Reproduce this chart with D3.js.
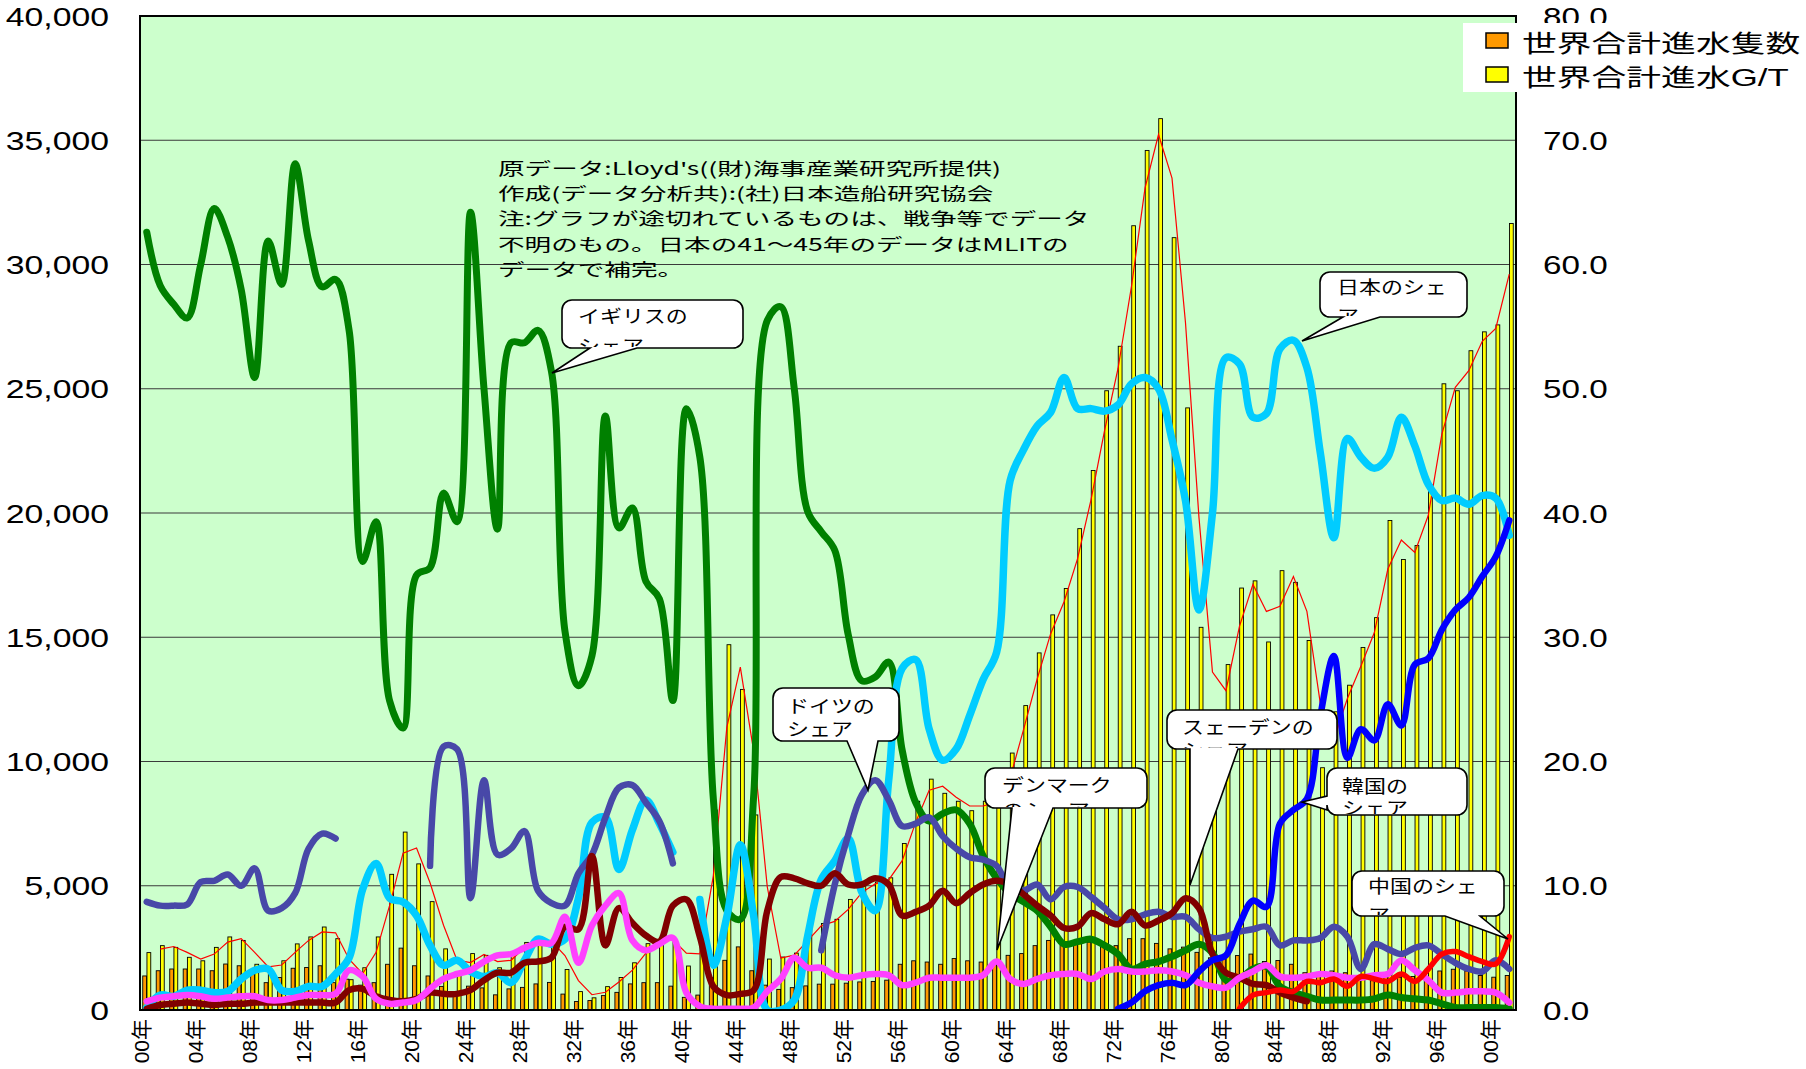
<!DOCTYPE html>
<html>
<head>
<meta charset="utf-8">
<script src="https://cdn.jsdelivr.net/npm/d3@7"></script>
<style>
body { margin: 0; background: #fff; }
</style>
</head>
<body>
<div id="chart"></div>
<script>
// categories: 1900 - 2001
var years = d3.range(1900, 2002);

// 世界合計進水隻数 (left axis)
var launchCount = [
	1370, 1580, 1650, 1650, 1650, 1580, 1850, 1780, 1450, 1100,
	1310, 1680, 1710, 1780, 1100, 1240, 1000, 1100, 1840, 2490,
	1780, 1370, 950, 620, 960, 890, 610, 850, 910, 1050,
	1110, 640, 340, 380, 580, 710, 1050, 1100, 1100, 960,
	510, 600, 1300, 2000, 2540, 1580, 1000, 830, 900, 970,
	1040, 1040, 1080, 1130, 1150, 1200, 1840, 1980, 1930, 1840,
	2070, 1980, 1930, 1980, 2200, 2270, 2590, 2800, 2600, 2800,
	2730, 2660, 2590, 2870, 2870, 2680, 2460, 2530, 2320, 2100,
	2100, 2190, 2250, 1950, 1990, 1840, 1500, 1500, 1570, 1500,
	1250, 1180, 1390, 1320, 1350, 1320, 1570, 1640, 1570, 1390,
	1320, 1390
];

// 世界合計進水G/T (left axis)
var launchGT = [
	2310, 2590, 2520, 2120, 1980, 2520, 2940, 2800, 1840, 1640,
	1980, 2660, 2940, 3340, 2870, 1220, 1700, 2940, 5460, 7160,
	5880, 4360, 2460, 1550, 2270, 2200, 1700, 2300, 2720, 2790,
	2750, 1630, 740, 490, 940, 1310, 1900, 2670, 2870, 2800,
	1770, 2750, 8050, 14700, 12900, 7850, 2050, 2130, 2290, 3300,
	3480, 3650, 4450, 5000, 5150, 5320, 6700, 8400, 9290, 8720,
	8400, 8020, 8400, 8330, 10340, 12250, 14370, 15900, 16960, 19370,
	21710, 24920, 26710, 31560, 34590, 35870, 31080, 24230, 15400, 11800,
	13900, 16980, 17270, 14810, 17680, 17210, 14870, 9750, 12000, 13070,
	14590, 15790, 19700, 18130, 18690, 21130, 25200, 24920, 26530, 27290,
	27570, 31650
];

// shares in % (right axis), null = no data
var shareUK = [
	62.6, 58.3, 56.8, 55.7, 60.0, 64.5, 62.2, 58.0, 50.9, 61.9,
	58.4, 68.1, 61.9, 58.2, 58.8, 54.7, 36.1, 39.3, 24.9, 22.7,
	35.0, 35.6, 41.6, 39.3, 64.2, 50.0, 38.7, 53.7, 53.7, 54.7,
	51.4, 30.5, 26.1, 28.5, 47.8, 38.8, 40.4, 34.5, 33.1, 24.9,
	48.4, 44.5, 17.0, 8.0, 7.3, 17.4, 55.5, 56.6, 50.0, 40.1,
	38.5, 37.0, 30.2, 26.5, 26.8, 28.0, 20.9, 16.7, 15.2, 15.8,
	16.1, 15.0, 12.4, 10.6, 9.4, 8.7, 8.0, 6.7, 5.3, 5.5,
	5.7, 5.2, 4.5, 3.3, 3.7, 3.9, 4.3, 4.8, 5.3, 4.6,
	2.4, 2.5, 3.3, 3.5, 1.9, 1.4, 1.1, 0.8, 0.8, 0.8,
	0.8, 0.9, 1.2, 1.0, 0.9, 0.8, 0.5, 0.2, 0.2, 0.2,
	0.2, 0.1
];
var shareJapan = [
	0.2, 1.2, 1.1, 1.6, 1.6, 1.4, 1.5, 2.5, 3.2, 3.3,
	1.6, 1.5, 1.9, 1.9, 2.9, 4.2, 9.7, 11.8, 9.0, 8.7,
	7.6, 5.2, 3.6, 4.0, 3.1, 2.7, 3.0, 2.2, 4.0, 5.7,
	5.3, 5.7, 9.0, 15.1, 15.5, 11.3, 14.5, 16.9, 15.0, 12.7,
	null, 8.9, 3.6, 7.5, 13.3, 7.5, 0, 0, 0.8, 6.0,
	10.5, 12.0, 13.8, 9.5, 8.0, 18.5, 27.5, 28.2, 22.6, 20.1,
	21.0, 23.7, 26.6, 28.8, 42.6, 45.1, 47.0, 48.1, 50.9, 48.4,
	48.4, 48.2, 48.7, 50.4, 50.9, 50.0, 45.9, 41.0, 32.2, 40.0,
	52.5, 52.0, 47.7, 48.0, 53.2, 53.9, 51.7, 44.8, 38.0, 46.0,
	44.5, 43.6, 44.5, 47.7, 45.4, 42.3, 41.0, 41.2, 40.7, 41.4,
	41.2, 38.2
];
var shareGermany = [
	8.7, 8.4, 8.4, 8.5, 10.3, 10.4, 10.9, 10.0, 11.4, 8.0,
	8.2, 9.4, 13.0, 14.2, 13.8, null, null, null, null, null,
	null, 11.6, 21.2, 21.0, 9.0, 18.5, 12.5, 13.0, 14.4, 9.6,
	8.6, 8.4, 11.0, 12.5, 15.5, 17.9, 18.1, 16.7, 15.2, 11.8,
	null, null, null, null, null, null, null, null, null, null,
	4.8, 10.1, 14.1, 17.3, 18.5, 16.9, 14.8, 15.0, 15.5, 14.0,
	13.0, 12.3, 12.1, 11.6, 9.7, 9.6, 10.1, 8.9, 9.9, 9.9,
	9.1, 8.2, 7.3, 7.3, 7.7, 7.9, 7.5, 7.5, 6.5, 5.8,
	5.9, 6.3, 6.5, 6.7, 5.2, 5.6, 5.6, 5.8, 6.7, 5.9,
	3.3, 5.3, 4.9, 4.5, 5.0, 5.2, 4.5, 3.8, 3.3, 3.1,
	4.0, 3.3
];
var shareSweden = [
	0.1, 0.4, 0.5, 0.6, 0.5, 0.4, 0.5, 0.5, 0.6, 0.6,
	0.6, 0.6, 0.6, 0.6, 0.6, 1.6, 1.7, 1.1, 0.8, 0.7,
	0.9, 1.4, 1.3, 1.3, 1.6, 2.4, 3.0, 3.0, 3.8, 3.9,
	4.2, 6.7, 6.5, 12.4, 5.2, 8.2, 7.0, 6.0, 5.5, 8.4,
	8.9, 5.9, 1.9, 1.2, 1.3, 1.6, 8.0, 10.7, 10.6, 10.2,
	10.0, 11.0, 10.1, 10.1, 10.6, 10.1, 7.6, 7.9, 8.4, 9.6,
	8.6, 9.4, 10.1, 10.4, 10.1, 9.3, 8.4, 7.6, 6.6, 6.7,
	7.8, 7.3, 6.9, 7.9, 6.8, 7.2, 7.8, 9.0, 8.2, 4.5,
	3.0, 2.6, 2.1, 2.0, 1.4, 1.0, 0.7, null, null, null,
	null, null, null, null, null, null, null, null, null, null,
	null, null
];
var shareDenmark = [
	0.7, 1.0, 1.1, 1.2, 1.1, 0.9, 1.0, 1.1, 1.1, 0.8,
	0.8, 1.0, 1.2, 1.2, 1.3, 3.2, 2.7, 0.9, 0.5, 0.6,
	0.8, 1.7, 2.5, 2.9, 3.2, 3.9, 4.4, 4.5, 5.0, 5.4,
	5.4, 7.5, 3.8, 6.8, 8.4, 9.4, 5.6, 4.8, 5.3, 5.8,
	1.4, 0.3, 0.1, 0.1, 0.1, 0.2, 1.5, 2.5, 4.2, 3.4,
	3.4, 2.8, 2.6, 2.8, 2.9, 2.8, 2.0, 2.2, 2.6, 2.6,
	2.6, 2.6, 2.8, 3.9, 2.5, 2.1, 2.5, 2.8, 2.9, 2.9,
	2.5, 3.1, 3.3, 3.1, 3.1, 3.2, 3.1, 2.8, 2.2, 1.9,
	1.8, 2.6, 3.1, 3.6, 2.7, 2.6, 2.7, 2.9, 2.8, 2.6,
	2.6, 2.8, 2.9, 4.0, 3.2, 2.4, 1.4, 1.4, 1.5, 1.5,
	1.4, 0.6
];
// Korea from 1972, China from 1981
var koreaStart = 1972;
var shareKorea = [
	0.1, 0.6, 1.5, 2.0, 2.2, 2.0, 3.1, 4.0, 4.4, 6.9,
	8.8, 8.3, 15.0, 16.1, 17.0, 23.7, 28.5, 20.3, 22.6, 21.7,
	24.6, 22.9, 27.8, 28.3, 30.6, 32.2, 33.2, 34.9, 36.5, 39.4
];
var chinaStart = 1981;
var shareChina = [
	0.1, 1.2, 1.4, 1.6, 1.5, 2.3, 2.2, 2.5, 1.9, 2.7,
	2.5, 2.3, 2.9, 2.3, 3.3, 4.5, 4.7, 4.3, 3.9, 3.7,
	5.9
];

// tick labels
var leftTicks = [0, 5000, 10000, 15000, 20000, 25000, 30000, 35000, 40000];
var rightTicks = [0, 10, 20, 30, 40, 50, 60, 70, 80];
var labelYears = years.filter(function(d) { return (d - 1900) % 4 == 0; });

var noteLines = [
	"原データ:Lloyd's((財)海事産業研究所提供)",
	"作成(データ分析共):(社)日本造船研究協会",
	"注:グラフが途切れているものは、戦争等でデータ",
	"不明のもの。日本の41～45年のデータはMLITの",
	"データで補完。"
];

function renderChart() {
	var plot = { left: 140, right: 1516, top: 16, bottom: 1010 };
	var cjk = "'Noto Sans CJK JP', sans-serif";
	var latin = "'Liberation Sans', 'Noto Sans CJK JP', sans-serif";

	var svg = d3.select("#chart")
		.append("svg")
		.attr("width", 1806)
		.attr("height", 1069);

	// scales
	var x = d3.scaleBand()
		.domain(years)
		.range([plot.left, plot.right]);
	var xSub = d3.scaleBand()
		.domain(["count", "gt"])
		.range([0, x.bandwidth()])
		.paddingInner(0.1)
		.paddingOuter(0.65);
	var yLeft = d3.scaleLinear()
		.domain([0, 40000])
		.range([plot.bottom, plot.top]);
	var yRight = d3.scaleLinear()
		.domain([0, 80])
		.range([plot.bottom, plot.top]);

	svg.append("clipPath")
		.attr("id", "plotClip")
		.append("rect")
		.attr("x", plot.left)
		.attr("y", plot.top)
		.attr("width", plot.right - plot.left)
		.attr("height", plot.bottom - plot.top);

	// plot background
	svg.append("rect")
		.attr("x", plot.left)
		.attr("y", plot.top)
		.attr("width", plot.right - plot.left)
		.attr("height", plot.bottom - plot.top)
		.style("fill", "#ccffcc");

	// gridlines
	svg.append("g")
		.selectAll("line")
		.data(leftTicks.slice(1, -1))
		.enter()
		.append("line")
		.attr("x1", plot.left)
		.attr("x2", plot.right)
		.attr("y1", function(d) { return yLeft(d); })
		.attr("y2", function(d) { return yLeft(d); })
		.style("stroke", "#3a3a3a")
		.style("stroke-width", 1.2);

	// bars
	var barData = years.map(function(yr, i) {
		return { year: yr, count: launchCount[i], gt: launchGT[i] };
	});
	var bars = svg.append("g");
	bars.selectAll(".barCount")
		.data(barData)
		.enter()
		.append("rect")
		.attr("class", "barCount")
		.attr("x", function(d) { return x(d.year) + xSub("count"); })
		.attr("width", xSub.bandwidth())
		.attr("y", function(d) { return yLeft(d.count); })
		.attr("height", function(d) { return plot.bottom - yLeft(d.count); })
		.style("fill", "#ff9900")
		.style("stroke", "#000")
		.style("stroke-width", 0.9);
	bars.selectAll(".barGT")
		.data(barData)
		.enter()
		.append("rect")
		.attr("class", "barGT")
		.attr("x", function(d) { return x(d.year) + xSub("gt"); })
		.attr("width", xSub.bandwidth())
		.attr("y", function(d) { return yLeft(d.gt); })
		.attr("height", function(d) { return plot.bottom - yLeft(d.gt); })
		.style("fill", "#ffff00")
		.style("stroke", "#000")
		.style("stroke-width", 0.9);

	// 2 period moving average trendline of G/T
	var maData = barData.map(function(d, i) {
		return { year: d.year, v: i == 0 ? null : (barData[i - 1].gt + d.gt) / 2 };
	});
	var maLine = d3.line()
		.defined(function(d) { return d.v != null; })
		.x(function(d) { return x(d.year) + x.bandwidth() / 2; })
		.y(function(d) { return yLeft(d.v); });
	svg.append("path")
		.datum(maData)
		.attr("d", maLine)
		.style("fill", "none")
		.style("stroke", "#ff0000")
		.style("stroke-width", 1.2);

	// share lines
	function fromStart(start, vals) {
		return years.map(function(yr) {
			var k = yr - start;
			return k >= 0 && k < vals.length ? vals[k] : null;
		});
	}
	var series = [
		{ name: "UK", values: shareUK, color: "#008000", w: 7 },
		{ name: "Japan", values: shareJapan, color: "#00ccff", w: 7.5 },
		{ name: "Germany", values: shareGermany, color: "#4848a8", w: 6.5 },
		{ name: "Sweden", values: shareSweden, color: "#800000", w: 6.5 },
		{ name: "Denmark", values: shareDenmark, color: "#ff40ff", w: 6.5 },
		{ name: "Korea", values: fromStart(koreaStart, shareKorea), color: "#0000ff", w: 6.5 },
		{ name: "China", values: fromStart(chinaStart, shareChina), color: "#ff0000", w: 5.5 }
	];
	var shareLine = d3.line()
		.defined(function(d) { return d.v != null; })
		.x(function(d) { return x(d.year) + x.bandwidth() / 2; })
		.y(function(d) { return yRight(d.v); })
		.curve(d3.curveCatmullRom.alpha(0.5));
	svg.append("g")
		.attr("clip-path", "url(#plotClip)")
		.selectAll("path")
		.data(series)
		.enter()
		.append("path")
		.attr("d", function(s) {
			return shareLine(years.map(function(yr, i) { return { year: yr, v: s.values[i] }; }));
		})
		.style("fill", "none")
		.style("stroke", function(s) { return s.color; })
		.style("stroke-width", function(s) { return s.w; })
		.style("stroke-linejoin", "round")
		.style("stroke-linecap", "round");

	// frame
	svg.append("rect")
		.attr("x", plot.left)
		.attr("y", plot.top)
		.attr("width", plot.right - plot.left)
		.attr("height", plot.bottom - plot.top)
		.style("fill", "none")
		.style("stroke", "#000")
		.style("stroke-width", 2);

	// left axis
	var axL = svg.append("g")
		.attr("transform", "translate(" + plot.left + ",0)")
		.call(d3.axisLeft(yLeft).tickValues(leftTicks).tickFormat(d3.format(",")).tickSize(0))
		.attr("font-size", 25)
		.attr("font-family", latin);
	axL.select(".domain").remove();
	axL.selectAll("text")
		.attr("x", 0)
		.attr("dy", "0.36em")
		.attr("transform", "translate(-31,0) scale(1.35,1)")
		.attr("fill", "#000");

	// right axis
	var axR = svg.append("g")
		.attr("transform", "translate(" + plot.right + ",0)")
		.call(d3.axisRight(yRight).tickValues(rightTicks).tickFormat(d3.format(".1f")).tickSize(0))
		.attr("font-size", 25)
		.attr("font-family", latin);
	axR.select(".domain").remove();
	axR.selectAll("text")
		.attr("x", 0)
		.attr("dy", "0.36em")
		.attr("transform", "translate(27,0) scale(1.33,1)")
		.attr("fill", "#000");

	// bottom axis
	var axB = svg.append("g")
		.attr("transform", "translate(0," + plot.bottom + ")")
		.call(d3.axisBottom(x).tickValues(labelYears).tickSize(0)
			.tickFormat(function(d) { return String(d % 100).padStart(2, "0") + "年"; }))
		.attr("font-size", 21)
		.attr("font-family", latin);
	axB.select(".domain").remove();
	axB.selectAll("text")
		.attr("x", 0)
		.attr("y", 0)
		.attr("dy", "0.36em")
		.attr("text-anchor", "end")
		.attr("transform", "translate(-5,9) rotate(-90)")
		.attr("fill", "#000");

	// source note
	svg.append("g")
		.selectAll("text")
		.data(noteLines)
		.enter()
		.append("text")
		.attr("transform", function(d, i) {
			return "translate(498," + (175 + i * 25.2) + ") scale(1.52,1)";
		})
		.style("font-family", cjk)
		.style("font-size", "17.5px")
		.text(function(d) { return d; });

	// callouts (second line partly cut by the box, as in the original)
	var callouts = [
		{ box: [562, 300, 181, 48], lines: ["イギリスの", "シェア"], tx: 578, ty: [323, 353], side: "bottom", b: [590, 637], tip: [552, 373] },
		{ box: [1320, 272, 147, 45], lines: ["日本のシェ", "ア"], tx: 1337, ty: [294, 323], side: "bottom", b: [1343, 1380], tip: [1302, 341] },
		{ box: [773, 688, 126, 53], lines: ["ドイツの", "シェア"], tx: 787, ty: [713, 736], side: "bottom", b: [847, 878], tip: [868, 790] },
		{ box: [985, 768, 162, 40], lines: ["デンマーク", "のシェア"], tx: 1002, ty: [792, 817], side: "bottom", b: [1012, 1053], tip: [997, 950] },
		{ box: [1167, 710, 170, 39], lines: ["スェーデンの", "シェア"], tx: 1182, ty: [734, 757], side: "bottom", b: [1190, 1238], tip: [1190, 885] },
		{ box: [1327, 768, 140, 47], lines: ["韓国の", "シェア"], tx: 1342, ty: [793, 815], side: "left", b: [796, 810], tip: [1302, 802] },
		{ box: [1352, 871, 152, 45], lines: ["中国のシェ", "ア"], tx: 1368, ty: [893, 922], side: "bottom", b: [1445, 1480], tip: [1508, 939] }
	];

	function calloutPath(c) {
		var bx = c.box[0], by = c.box[1], bw = c.box[2], bh = c.box[3], r = 10;
		var p = d3.path();
		p.moveTo(bx + r, by);
		p.lineTo(bx + bw - r, by);
		p.arcTo(bx + bw, by, bx + bw, by + r, r);
		p.lineTo(bx + bw, by + bh - r);
		p.arcTo(bx + bw, by + bh, bx + bw - r, by + bh, r);
		if (c.side == "bottom") {
			p.lineTo(c.b[1], by + bh);
			p.lineTo(c.tip[0], c.tip[1]);
			p.lineTo(c.b[0], by + bh);
		}
		p.lineTo(bx + r, by + bh);
		p.arcTo(bx, by + bh, bx, by + bh - r, r);
		if (c.side == "left") {
			p.lineTo(bx, c.b[1]);
			p.lineTo(c.tip[0], c.tip[1]);
			p.lineTo(bx, c.b[0]);
		}
		p.lineTo(bx, by + r);
		p.arcTo(bx, by, bx + r, by, r);
		p.closePath();
		return p.toString();
	}

	var co = svg.append("g")
		.selectAll("g")
		.data(callouts)
		.enter()
		.append("g");
	co.append("clipPath")
		.attr("id", function(d, i) { return "coClip" + i; })
		.append("rect")
		.attr("x", function(d) { return d.box[0]; })
		.attr("y", function(d) { return d.box[1]; })
		.attr("width", function(d) { return d.box[2]; })
		.attr("height", function(d) { return d.box[3] - 1; });
	co.append("path")
		.attr("d", calloutPath)
		.style("fill", "#fff")
		.style("stroke", "#000")
		.style("stroke-width", 1.6);
	co.append("g")
		.attr("clip-path", function(d, i) { return "url(#coClip" + i + ")"; })
		.selectAll("text")
		.data(function(d) {
			return d.lines.map(function(t, k) { return { t: t, x: d.tx, y: d.ty[k] }; });
		})
		.enter()
		.append("text")
		.attr("transform", function(d) { return "translate(" + d.x + "," + d.y + ") scale(1.22,1)"; })
		.style("font-family", cjk)
		.style("font-size", "18px")
		.text(function(d) { return d.t; });

	// legend
	var legendItems = [
		{ label: "世界合計進水隻数", color: "#ff9900" },
		{ label: "世界合計進水G/T", color: "#ffff00" }
	];
	svg.append("rect")
		.attr("x", 1463)
		.attr("y", 23)
		.attr("width", 343)
		.attr("height", 69)
		.style("fill", "#fff");
	var legend = svg.selectAll(".legend")
		.data(legendItems)
		.enter()
		.append("g")
		.attr("class", "legend")
		.attr("transform", function(d, i) { return "translate(0," + i * 34 + ")"; });
	legend.append("rect")
		.attr("x", 1486)
		.attr("y", 33)
		.attr("width", 22)
		.attr("height", 15)
		.style("fill", function(d) { return d.color; })
		.style("stroke", "#000")
		.style("stroke-width", 1.5);
	legend.append("text")
		.attr("transform", "translate(1522,52) scale(1.45,1)")
		.style("font-family", latin)
		.style("font-size", "24px")
		.text(function(d) { return d.label; });
}

renderChart();
</script>
</body>
</html>
